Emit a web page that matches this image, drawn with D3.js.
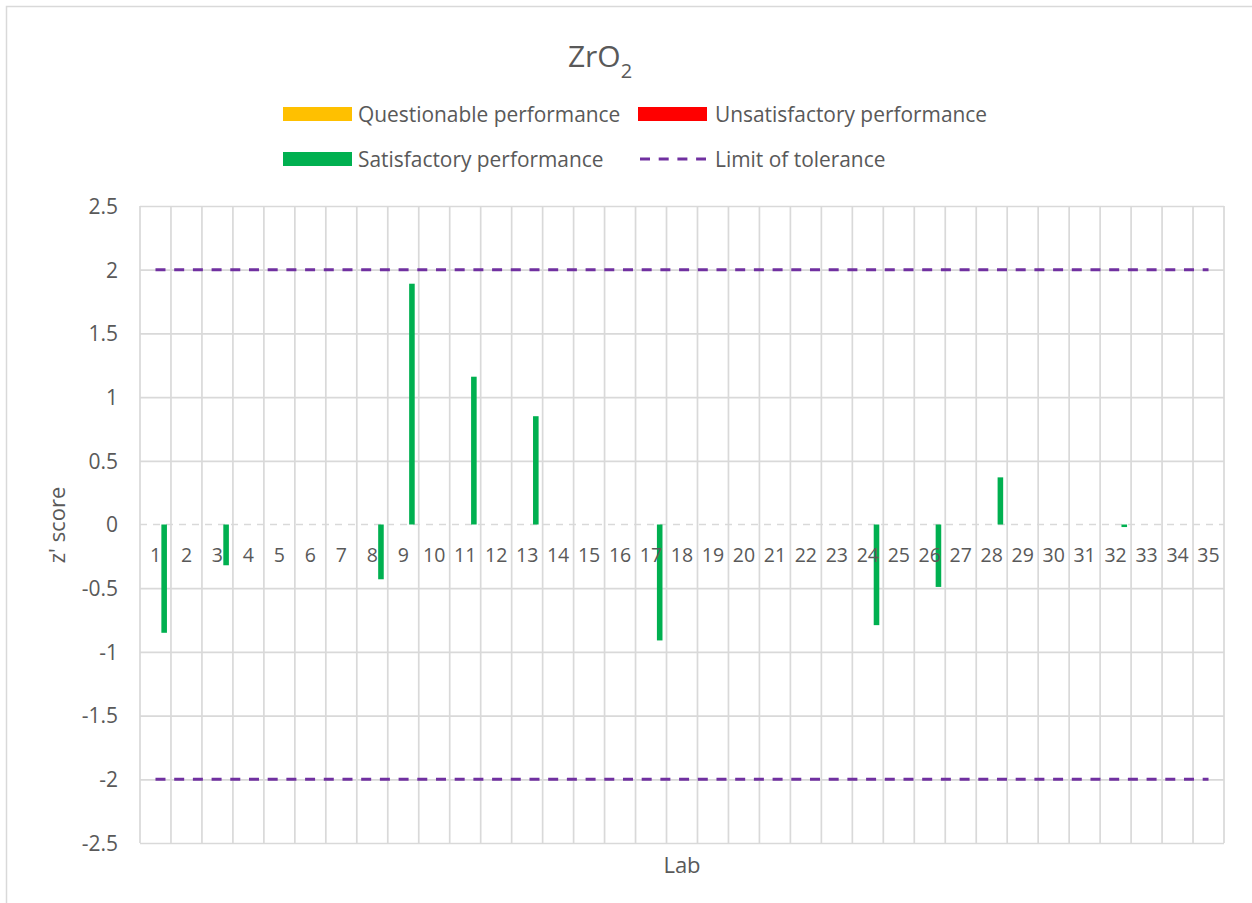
<!DOCTYPE html>
<html>
<head>
<meta charset="utf-8">
<script src="https://cdn.jsdelivr.net/npm/d3@7"></script>
<style>
  html, body { margin: 0; padding: 0; background: #ffffff; }
  svg { display: block; }
  text { font-family: "Open Sans", "Noto Sans", sans-serif; fill: #595959; }
</style>
</head>
<body>
<svg id="chart" width="1252" height="903"></svg>
<script>
// ---- Data ----
const labs = d3.range(1, 36).map(String);
const seriesNames = ["Questionable performance", "Unsatisfactory performance", "Satisfactory performance"];
const seriesColors = ["#FFC000", "#FF0000", "#00B050"];
const questionable = new Array(35).fill(null);
const unsatisfactory = new Array(35).fill(null);
const satisfactory = [
  -0.85, null, -0.32, null, null, null, null, -0.43, 1.89, null,
  1.16, null, 0.85, null, null, null, -0.91, null, null, null,
  null, null, null, -0.79, null, -0.49, null, 0.37, null, null,
  null, -0.02, null, null, null
];
const limitUpper = 2;
const limitLower = -2;
const yTicks = [-2.5, -2, -1.5, -1, -0.5, 0, 0.5, 1, 1.5, 2, 2.5];
const titleText = "ZrO";
const titleSub = "2";
const xTitle = "Lab";
const yTitle = "z' score";
const limitLabel = "Limit of tolerance";

// ---- Layout ----
const svg = d3.select("#chart");
const plot = { left: 140, right: 1224, top: 206, bottom: 843 };

svg.append("rect")
  .attr("x", 6.5).attr("y", 6.5).attr("width", 1300).attr("height", 1000)
  .attr("fill", "#ffffff").attr("stroke", "#d9d9d9").attr("stroke-width", 1.5);

const x = d3.scaleBand().domain(labs).range([plot.left, plot.right]).padding(0);
const bw = x.bandwidth();
const inner = d3.scaleBand().domain(seriesNames).range([bw * 0.33, bw * 0.87]).padding(0);
const y = d3.scaleLinear().domain([-2.5, 2.5]).range([plot.bottom, plot.top]);

const gridColor = "#d9d9d9";

// horizontal gridlines (except 0, which is the dashed category axis)
const gy = svg.append("g")
  .attr("transform", `translate(${plot.left},0)`)
  .call(d3.axisLeft(y).tickValues(yTicks.filter(v => v !== 0)).tickSize(-(plot.right - plot.left)).tickFormat(""));
gy.select(".domain").remove();
gy.selectAll("line").attr("stroke", gridColor).attr("stroke-width", 1.7);

// vertical gridlines at category boundaries
const boundaries = labs.map(l => x(l)).concat([plot.right]);
svg.append("g").selectAll("line").data(boundaries).join("line")
  .attr("x1", d => d).attr("x2", d => d)
  .attr("y1", plot.top).attr("y2", plot.bottom)
  .attr("stroke", gridColor).attr("stroke-width", 1.7);

// zero (category axis) dashed line
svg.append("line")
  .attr("x1", plot.left).attr("x2", plot.right)
  .attr("y1", y(0)).attr("y2", y(0))
  .attr("stroke", "#d9d9d9").attr("stroke-width", 1.7)
  .attr("stroke-dasharray", "7,6");

// y tick labels
const ya = svg.append("g")
  .attr("transform", `translate(${plot.left - 22},0)`)
  .call(d3.axisLeft(y).tickValues(yTicks).tickSize(0).tickPadding(0).tickFormat(d => d3.format("")(d).replace("−", "-")));
ya.select(".domain").remove();
ya.selectAll("text")
  .style("font-family", '"Open Sans", sans-serif')
  .style("font-size", "21px")
  .attr("fill", "#595959")
  .attr("dy", "0.35em");

// bars
const allSeries = [questionable, unsatisfactory, satisfactory];
allSeries.forEach((vals, si) => {
  const data = labs.map((l, i) => ({ lab: l, v: vals[i] })).filter(d => d.v !== null);
  svg.append("g").selectAll("rect").data(data).join("rect")
    .attr("x", d => x(d.lab) + inner(seriesNames[si]))
    .attr("width", inner.bandwidth())
    .attr("y", d => y(Math.max(0, d.v)))
    .attr("height", d => Math.max(1.5, Math.abs(y(d.v) - y(0))))
    .attr("fill", seriesColors[si]);
});

// category labels (inside the plot, under the zero line)
svg.append("g").selectAll("text").data(labs).join("text")
  .attr("x", d => x(d) + bw / 2)
  .attr("y", y(0) + 37)
  .attr("text-anchor", "middle")
  .style("font-size", "19.5px")
  .text(d => d);

// limit of tolerance lines
const line = d3.line().x(d => d[0]).y(d => d[1]);
[limitUpper, limitLower].forEach(lim => {
  const pts = labs.map(l => [x(l) + bw / 2, y(lim)]);
  svg.append("path")
    .attr("d", line(pts))
    .attr("fill", "none")
    .attr("stroke", "#7030A0")
    .attr("stroke-width", 3)
    .attr("stroke-dasharray", "10,8.7");
});

// title
const t = svg.append("text")
  .attr("x", 600).attr("y", 67)
  .attr("text-anchor", "middle")
  .style("font-size", "30px");
t.append("tspan").text(titleText);
t.append("tspan").attr("dy", 11).style("font-size", "20px").text(titleSub);

// axis titles
svg.append("text")
  .attr("x", 682).attr("y", 873)
  .attr("text-anchor", "middle")
  .style("font-size", "22px")
  .text(xTitle);
svg.append("text")
  .attr("transform", "translate(65,525) rotate(-90)")
  .attr("text-anchor", "middle")
  .style("font-size", "22px")
  .text(yTitle);

// legend
const legendItems = [
  { name: seriesNames[0], color: seriesColors[0], type: "rect", sx: 283, tx: 358, cy: 114 },
  { name: seriesNames[1], color: seriesColors[1], type: "rect", sx: 638, tx: 715, cy: 114 },
  { name: seriesNames[2], color: seriesColors[2], type: "rect", sx: 283, tx: 358, cy: 159 },
  { name: limitLabel, color: "#7030A0", type: "line", sx: 640, tx: 715, cy: 159 }
];
const lg = svg.append("g");
legendItems.forEach(it => {
  if (it.type === "rect") {
    lg.append("rect")
      .attr("x", it.sx).attr("y", it.cy - 7)
      .attr("width", 69).attr("height", 14)
      .attr("fill", it.color);
  } else {
    lg.append("line")
      .attr("x1", it.sx).attr("x2", it.sx + 66)
      .attr("y1", it.cy).attr("y2", it.cy)
      .attr("stroke", it.color).attr("stroke-width", 3)
      .attr("stroke-dasharray", "10,8.7");
  }
  lg.append("text")
    .attr("x", it.tx).attr("y", it.cy + 7.5)
    .style("font-size", "20.9px")
    .text(it.name);
});
</script>
</body>
</html>
